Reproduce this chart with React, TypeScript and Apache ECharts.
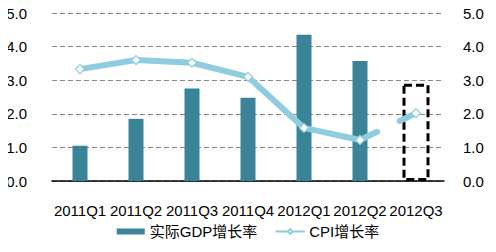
import React, { useEffect, useRef } from "react";
import * as echarts from "echarts";

const categories = ["2011Q1", "2011Q2", "2011Q3", "2011Q4", "2012Q1", "2012Q2", "2012Q3"];
const gdpValues = [1.05, 1.85, 2.75, 2.48, 4.35, 3.57, null];
const gdpForecast = [[6, 2.85]];
const cpiValues = [3.33, 3.6, 3.52, 3.1, 1.58, 1.22, null];
const cpiForecastLink = [null, null, null, null, null, 1.22, 2.02];
const yTicks = { min: 0, max: 5, interval: 1 };

const FONT = "'Liberation Sans', Arial, 'Noto Sans CJK SC', sans-serif";
const BAR = "#3b8396";
const LINE = "#90cce0";

export default function App() {
  const ref = useRef<HTMLDivElement>(null);
  useEffect(() => {
    const chart = echarts.init(ref.current!, null, { renderer: "svg" });
    const axisLabel = {
      color: "#000",
      fontSize: 15,
      fontFamily: FONT,
      formatter: (v: number) => v.toFixed(1),
    };
    chart.setOption({
      animation: false,
      textStyle: { fontFamily: FONT },
      grid: { left: 52, right: 52, top: 13, bottom: 71 },
      legend: {
        data: [
          { name: "实际GDP增长率", icon: "rect" },
          { name: "CPI增长率" },
        ],
        bottom: 8,
        left: "center",
        itemWidth: 28,
        itemHeight: 6,
        itemGap: 18,
        textStyle: { color: "#000", fontSize: 15, fontFamily: FONT },
      },
      xAxis: {
        type: "category",
        data: categories,
        axisLine: { lineStyle: { color: "#000", width: 1.5 } },
        axisTick: { show: false },
        axisLabel: { color: "#000", fontSize: 15, fontFamily: FONT, margin: 22, interval: 0 },
      },
      yAxis: [
        {
          type: "value",
          ...yTicks,
          axisLine: { show: false },
          axisTick: { show: false },
          splitLine: { lineStyle: { color: "#888", type: [5, 3], width: 1 } },
          axisLabel: { ...axisLabel, margin: 25 },
        },
        {
          type: "value",
          ...yTicks,
          axisLine: { show: false },
          axisTick: { show: false },
          splitLine: { show: false },
          axisLabel: { ...axisLabel, margin: 19 },
        },
      ],
      series: [
        {
          name: "实际GDP增长率",
          type: "bar",
          data: gdpValues,
          barWidth: 15,
          itemStyle: { color: BAR },
          z: 2,
        },
        {
          name: "forecast",
          type: "custom",
          data: gdpForecast,
          encode: { x: 0, y: 1 },
          z: 3,
          renderItem: (params: any, api: any) => {
            const top = api.coord([api.value(0), api.value(1)]);
            const base = api.coord([api.value(0), 0]);
            return {
              type: "rect",
              shape: { x: top[0] - 12, y: top[1], width: 24, height: base[1] - top[1] - 1.5 },
              style: { fill: "none", stroke: "#000", lineWidth: 3, lineDash: [8, 4] },
            };
          },
        },
        {
          name: "CPI增长率",
          type: "line",
          yAxisIndex: 1,
          data: cpiValues,
          symbol: "diamond",
          symbolSize: 9,
          showAllSymbol: true,
          lineStyle: { color: LINE, width: 6, cap: "round", join: "round" },
          itemStyle: { color: "#fff", borderColor: LINE, borderWidth: 1.2 },
          z: 5,
        },
        {
          name: "cpiLink",
          type: "line",
          yAxisIndex: 1,
          data: cpiForecastLink,
          symbol: "diamond",
          symbolSize: 9,
          lineStyle: { color: LINE, width: 6, cap: "round", type: [19, 25] },
          itemStyle: { color: "#fff", borderColor: LINE, borderWidth: 1.2 },
          z: 5,
        },
      ],
    });
    return () => chart.dispose();
  }, []);
  return <div ref={ref} style={{ width: 496, height: 252, margin: -8 }} />;
}
